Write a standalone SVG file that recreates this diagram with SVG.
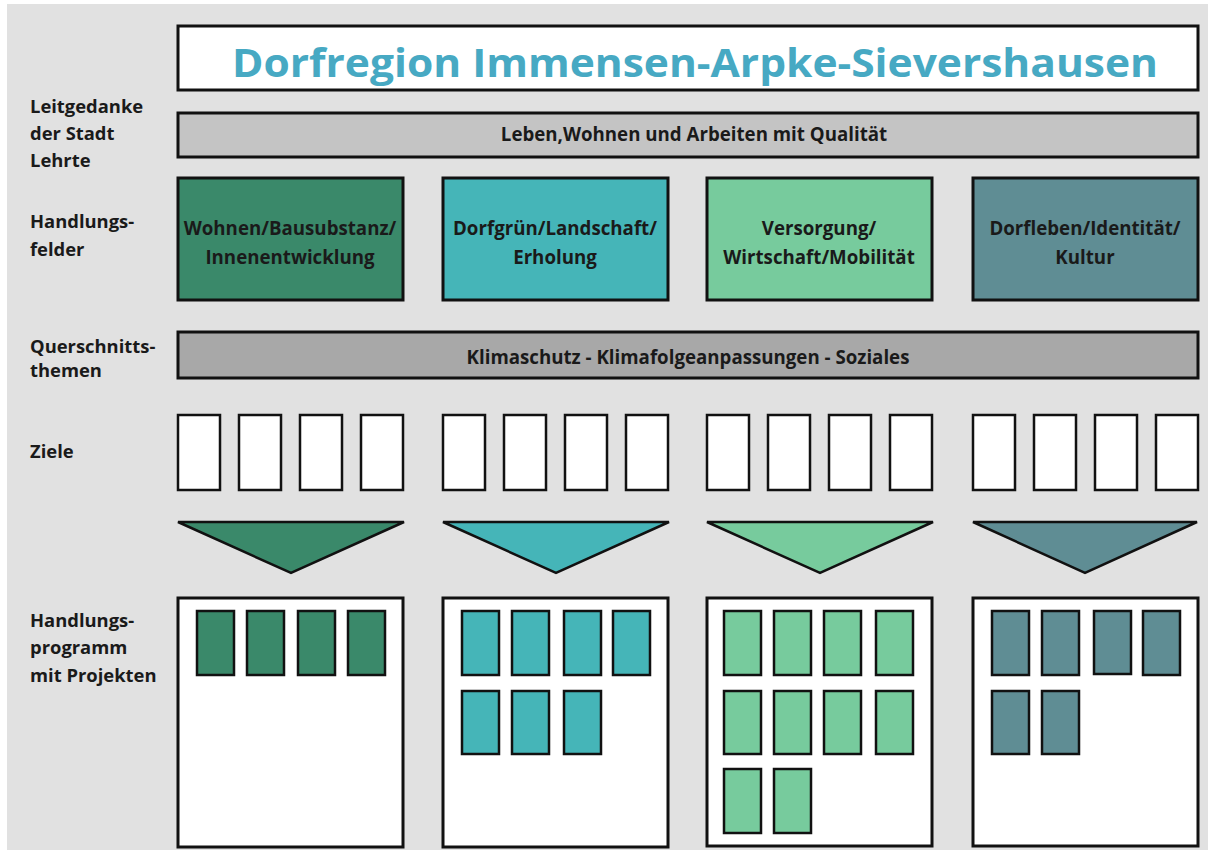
<svg xmlns="http://www.w3.org/2000/svg" width="1208" height="850" viewBox="0 0 1208 850">
<style>
.lbl{font-family:"Open Sans","Liberation Sans",sans-serif;font-weight:700;font-size:18.4px;fill:#1a1a1a}
.bt{font-family:"Open Sans","Liberation Sans",sans-serif;font-weight:700;font-size:18.7px;fill:#1a1a1a;text-anchor:middle}
.frame{stroke:#111;stroke-width:3}
.sm{stroke:#111;stroke-width:2.5}
.c1{fill:#3a896a}.c2{fill:#45b5b8}.c3{fill:#77cb9d}.c4{fill:#5f8d94}
.w{fill:#fff}
</style>
<rect x="0" y="0" width="1208" height="850" fill="#fff"/>
<rect x="7" y="4" width="1201" height="846" fill="#e1e1e1"/>

<g id="labels">
<text class="lbl" x="30" y="113">Leitgedanke</text>
<text class="lbl" x="30" y="140">der Stadt</text>
<text class="lbl" x="30" y="167">Lehrte</text>
<text class="lbl" x="30" y="228">Handlungs-</text>
<text class="lbl" x="30" y="256">felder</text>
<text class="lbl" x="30" y="353">Querschnitts-</text>
<text class="lbl" x="30" y="377">themen</text>
<text class="lbl" x="30" y="458">Ziele</text>
<text class="lbl" x="30" y="627">Handlungs-</text>
<text class="lbl" x="30" y="654">programm</text>
<text class="lbl" x="30" y="682">mit Projekten</text>
</g>

<g id="title">
<rect class="frame w" x="178" y="26" width="1020" height="64"/>
<text x="695" y="77" text-anchor="middle" font-family="'Open Sans','Liberation Sans',sans-serif" font-weight="700" font-size="40" fill="#47a9c3" textLength="926" lengthAdjust="spacingAndGlyphs">Dorfregion Immensen-Arpke-Sievershausen</text>
</g>

<g id="leitgedanke">
<rect class="frame" x="178" y="113" width="1020" height="44" fill="#c4c4c4"/>
<text class="bt" x="694" y="141">Leben,Wohnen und Arbeiten mit Qualität</text>
</g>

<g id="hf1">
<rect class="frame c1" x="178" y="178" width="225" height="122"/>
<text class="bt" x="290" y="235">Wohnen/Bausubstanz/</text>
<text class="bt" x="290" y="264">Innenentwicklung</text>
</g>
<g id="hf2">
<rect class="frame c2" x="443" y="178" width="225" height="122"/>
<text class="bt" x="555" y="235">Dorfgrün/Landschaft/</text>
<text class="bt" x="555" y="264">Erholung</text>
</g>
<g id="hf3">
<rect class="frame c3" x="707" y="178" width="225" height="122"/>
<text class="bt" x="819" y="235">Versorgung/</text>
<text class="bt" x="819" y="264">Wirtschaft/Mobilität</text>
</g>
<g id="hf4">
<rect class="frame c4" x="973" y="178" width="225" height="122"/>
<text class="bt" x="1085" y="235">Dorfleben/Identität/</text>
<text class="bt" x="1085" y="264">Kultur</text>
</g>

<g id="querschnitt">
<rect class="frame" x="178" y="332" width="1020" height="46" fill="#a8a8a8"/>
<text class="bt" x="688" y="364">Klimaschutz - Klimafolgeanpassungen - Soziales</text>
</g>

<g id="ziele">
<rect class="sm w" x="178" y="415" width="42" height="75"/>
<rect class="sm w" x="239" y="415" width="42" height="75"/>
<rect class="sm w" x="300" y="415" width="42" height="75"/>
<rect class="sm w" x="361" y="415" width="42" height="75"/>
<rect class="sm w" x="443" y="415" width="42" height="75"/>
<rect class="sm w" x="504" y="415" width="42" height="75"/>
<rect class="sm w" x="565" y="415" width="42" height="75"/>
<rect class="sm w" x="626" y="415" width="42" height="75"/>
<rect class="sm w" x="707" y="415" width="42" height="75"/>
<rect class="sm w" x="768" y="415" width="42" height="75"/>
<rect class="sm w" x="829" y="415" width="42" height="75"/>
<rect class="sm w" x="890" y="415" width="42" height="75"/>
<rect class="sm w" x="973" y="415" width="42" height="75"/>
<rect class="sm w" x="1034" y="415" width="42" height="75"/>
<rect class="sm w" x="1095" y="415" width="42" height="75"/>
<rect class="sm w" x="1156" y="415" width="42" height="75"/>
</g>

<g id="connectors">
<polygon class="sm c1" points="178,522 404,522 291,573"/>
<polygon class="sm c2" points="443,522 669,522 556,573"/>
<polygon class="sm c3" points="707,522 933,522 820,573"/>
<polygon class="sm c4" points="973,522 1197,522 1085,573"/>
</g>

<g id="prog1">
<rect class="frame w" x="178" y="598" width="225" height="249"/>
<rect class="sm c1" x="197" y="611" width="37" height="64"/>
<rect class="sm c1" x="247" y="611" width="37" height="64"/>
<rect class="sm c1" x="298" y="611" width="37" height="64"/>
<rect class="sm c1" x="348" y="611" width="37" height="64"/>
</g>
<g id="prog2">
<rect class="frame w" x="443" y="598" width="225" height="249"/>
<rect class="sm c2" x="462" y="611" width="37" height="64"/>
<rect class="sm c2" x="512" y="611" width="37" height="64"/>
<rect class="sm c2" x="564" y="611" width="37" height="64"/>
<rect class="sm c2" x="613" y="611" width="37" height="64"/>
<rect class="sm c2" x="462" y="691" width="37" height="63"/>
<rect class="sm c2" x="512" y="691" width="37" height="63"/>
<rect class="sm c2" x="564" y="691" width="37" height="63"/>
</g>
<g id="prog3">
<rect class="frame w" x="707" y="598" width="225" height="248"/>
<rect class="sm c3" x="724" y="611" width="37" height="64"/>
<rect class="sm c3" x="774" y="611" width="37" height="64"/>
<rect class="sm c3" x="824" y="611" width="37" height="64"/>
<rect class="sm c3" x="876" y="611" width="37" height="64"/>
<rect class="sm c3" x="724" y="691" width="37" height="63"/>
<rect class="sm c3" x="774" y="691" width="37" height="63"/>
<rect class="sm c3" x="824" y="691" width="37" height="63"/>
<rect class="sm c3" x="876" y="691" width="37" height="63"/>
<rect class="sm c3" x="724" y="769" width="37" height="64"/>
<rect class="sm c3" x="774" y="769" width="37" height="64"/>
</g>
<g id="prog4">
<rect class="frame w" x="973" y="598" width="225" height="248"/>
<rect class="sm c4" x="992" y="611" width="37" height="64"/>
<rect class="sm c4" x="1042" y="611" width="37" height="64"/>
<rect class="sm c4" x="1094" y="611" width="37" height="63"/>
<rect class="sm c4" x="1143" y="611" width="37" height="64"/>
<rect class="sm c4" x="992" y="691" width="37" height="63"/>
<rect class="sm c4" x="1042" y="691" width="37" height="63"/>
</g>
</svg>
